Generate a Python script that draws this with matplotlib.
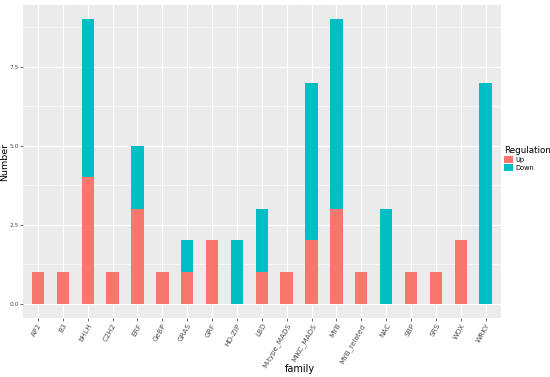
import numpy as np
import matplotlib
matplotlib.use('Agg')
import matplotlib.pyplot as plt
from matplotlib.patches import Patch

# transcription factor families and counts
families = ['AP2', 'B3', 'bHLH', 'C2H2', 'ERF', 'GeBP', 'GRAS', 'GRF', 'HD-ZIP',
            'LBD', 'M-type_MADS', 'MIKC_MADS', 'MYB', 'MYB_related', 'NAC',
            'SBP', 'SRS', 'WOX', 'WRKY']
up = [1, 1, 4, 1, 3, 1, 1, 2, 0, 1, 1, 2, 3, 1, 0, 1, 1, 2, 0]
down = [0, 0, 5, 0, 2, 0, 1, 0, 2, 2, 0, 5, 6, 0, 3, 0, 0, 0, 7]
yticks = [0, 2.5, 5, 7.5]

up_col = '#F8766D'
down_col = '#00BFC4'

fig = plt.figure(figsize=(5.5, 3.77), dpi=100)
ax = fig.add_axes([0.042, 0.157, 0.868, 0.829])
ax.set_facecolor('#EBEBEB')

x = np.arange(1, len(families) + 1)
up = np.array(up)
down = np.array(down)
ax.bar(x, up, width=0.5, color=up_col, zorder=3)
ax.bar(x, down, width=0.5, bottom=up, color=down_col, zorder=3)

tot = (up + down).max()
ax.set_xlim(0.4, len(families) + 0.6)
ax.set_ylim(-0.05 * tot, tot * 1.05)

ax.set_yticks(yticks)
ax.set_yticklabels(['%.1f' % v for v in yticks])
ax.set_yticks([1.25, 3.75, 6.25, 8.75], minor=True)
ax.set_xticks(x)
ax.set_xticklabels(families, rotation=60, ha='right', rotation_mode='anchor')

ax.grid(True, which='major', color='white', lw=0.9, zorder=0)
ax.grid(True, which='minor', axis='y', color='white', lw=0.45, zorder=0)
ax.set_axisbelow(True)
for s in ax.spines.values():
    s.set_visible(False)
ax.tick_params(axis='both', which='major', length=2, width=0.5, color='#333333',
               labelcolor='#4D4D4D', pad=1.2)
ax.tick_params(axis='y', labelsize=4.2)
ax.tick_params(axis='x', labelsize=5.2)
ax.tick_params(axis='y', which='minor', length=0)

ax.set_xlabel('family', fontsize=7)
ax.xaxis.set_label_coords(0.58, -0.148)
ax.set_ylabel('Number', fontsize=6.8)
ax.yaxis.set_label_coords(-0.03, 0.5)

handles = [Patch(facecolor=up_col, label='Up'), Patch(facecolor=down_col, label='Down')]
leg = fig.legend(handles=handles, title='Regulation', loc='upper left',
                 bbox_to_anchor=(0.917, 0.612), frameon=False, fontsize=4.8,
                 title_fontsize=6.3, handlelength=1.3, handleheight=1.3,
                 handletextpad=0.4, labelspacing=0.1, borderaxespad=0,
                 borderpad=0)
leg._legend_box.align = 'left'

fig.savefig('out.png', dpi=100)
